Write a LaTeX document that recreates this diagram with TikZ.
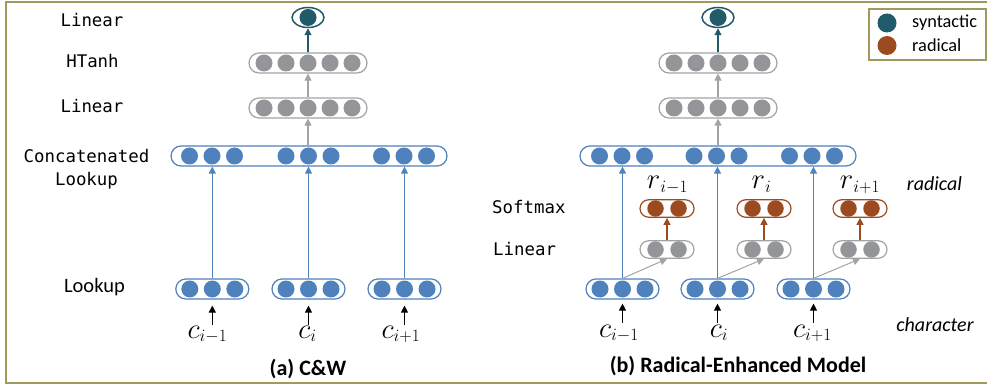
\documentclass[tikz,border=0pt]{standalone}
\usepackage{graphicx}
\usepackage{fontspec}
\setmainfont{Carlito}
\newfontfamily\monof{DejaVu Sans Mono}
\usetikzlibrary{arrows.meta,shapes.geometric}
\definecolor{cblue}{HTML}{4F81BD}
\definecolor{cgray}{HTML}{939598}
\definecolor{cgrayl}{HTML}{A3A3A3}
\definecolor{cteal}{HTML}{215A69}
\definecolor{cbrown}{HTML}{9C4A1F}
\definecolor{framec}{HTML}{A09A5E}
\newcommand{\mybig}[1]{\scalebox{1.15}{$#1$}}
\begin{document}
\begin{tikzpicture}[x=1pt,y=-1pt,
  layer/.style={draw, rounded corners=10pt, minimum height=20pt, inner sep=0pt, fill=white, line width=1.2pt},
  biglayer/.style={layer, draw=cgrayl, minimum width=118pt},
  looklayer/.style={layer, draw=cblue, minimum width=73pt},
  smlayer/.style={layer, rounded corners=8.75pt, minimum height=17.5pt, minimum width=54pt},
  dot/.style={circle, fill=#1, minimum size=17pt, inner sep=0pt, draw=none},
  sdot/.style={circle, fill=#1, minimum size=16.5pt, inner sep=0pt, draw=none},
  outer/.style={ellipse, draw=cteal, line width=1.5pt, fill=white, minimum width=32pt, minimum height=20pt, inner sep=0pt},
  arr/.style={-{Triangle[width=7pt,length=7pt]}, line width=1.2pt},
  mono/.style={font=\monof\fontsize{17.4}{23}\selectfont, inner sep=0pt},
  sans/.style={font=\fontsize{20.5}{24}\selectfont, inner sep=0pt},
  capt/.style={font=\bfseries\fontsize{22}{26}\selectfont, inner sep=0pt},
  ital/.style={font=\itshape\fontsize{20}{24}\selectfont, inner sep=0pt},
  leg/.style={font=\fontsize{18.3}{21}\selectfont, inner sep=0pt},
  mathl/.style={font=\fontsize{25}{30}\selectfont, inner sep=0pt}
]
\useasboundingbox (0,0) rectangle (987,387);
% frame
\draw[framec, line width=1.5pt] (987,2) -- (6,2) -- (6,383) -- (987,383);

% ================= panel (a) =================
\node[mono, anchor=base] (la1) at (92,27) {Linear};
\node[mono, anchor=base] (la2) at (92.5,67.5) {HTanh};
\node[mono, anchor=base] (la3) at (92,113) {Linear};
\node[mono, align=center] (la4) at (86.5,169) {Concatenated\\Lookup};
\node[sans, anchor=base] (la5) at (94.5,292) {Lookup};

\node[outer] (aout) at (308,17.5) {};
\node[dot=cteal] (aoutd) at (aout.center) {};
\node[biglayer] (ahtanh) at (308,63) {};
\foreach \dx [count=\k] in {-44,-22,0,22,44}
  \node[dot=cgray] (ahtanh d\k) at ([xshift=\dx pt]ahtanh.center) {};
\node[biglayer] (alin) at (308,108) {};
\foreach \dx [count=\k] in {-44,-22,0,22,44}
  \node[dot=cgray] (alin d\k) at ([xshift=\dx pt]alin.center) {};
\node[layer, draw=cblue, minimum width=276pt] (aconcat) at (309,156) {};
\foreach \gx [count=\g] in {212,308.5,404}
  \foreach \dx [count=\k] in {-22.5,0,22.5}
    \node[dot=cblue] (aconcat d\g\k) at (\gx+\dx,156) {};
\foreach \gx [count=\g] in {212.3,308.5,404.5} {
  \node[looklayer] (alook\g) at (\gx,289) {};
  \foreach \dx [count=\k] in {-22.5,0,22.5}
    \node[dot=cblue] (alook\g d\k) at ([xshift=\dx pt]alook\g.center) {};
  \draw[cblue, arr] (alook\g.north) -- (alook\g.north |- aconcat.south);
  \coordinate (acs\g) at (\gx,325);
  \draw[black, arr] (acs\g) -- (alook\g.south) [shorten >=6pt];
}
\draw[cteal, arr] (ahtanh.north) -- (aout.south);
\draw[cgrayl, arr] (alin.north) -- (ahtanh.south);
\draw[cgrayl, arr] (aconcat.north -| alin) -- (alin.south);

\node[mathl, anchor=base] (ac1) at (207.5,338) {$\mybig{c}_{i-1}$};
\node[mathl, anchor=base] (ac2) at (307.5,338) {$\mybig{c}_{i}$};
\node[mathl, anchor=base] (ac3) at (401,338) {$\mybig{c}_{i+1}$};
\node[capt, anchor=base] (capa) at (308,375) {(a) C\&W};

% ================= panel (b) =================
\node[mono, anchor=base west] (lb1) at (492,214) {Softmax};
\node[mono, anchor=base west] (lb2) at (493,255) {Linear};

\node[outer] (bout) at (718,17.5) {};
\node[dot=cteal] (boutd) at (bout.center) {};
\node[biglayer] (bhtanh) at (718,63) {};
\foreach \dx [count=\k] in {-44,-22,0,22,44}
  \node[dot=cgray] (bhtanh d\k) at ([xshift=\dx pt]bhtanh.center) {};
\node[biglayer] (blin) at (718,108) {};
\foreach \dx [count=\k] in {-44,-22,0,22,44}
  \node[dot=cgray] (blin d\k) at ([xshift=\dx pt]blin.center) {};
\node[layer, draw=cblue, minimum width=276pt] (bconcat) at (718,156) {};
\foreach \gx [count=\g] in {622,716.5,812}
  \foreach \dx [count=\k] in {-22.5,0,22.5}
    \node[dot=cblue] (bconcat d\g\k) at (\gx+\dx,156) {};
\draw[cteal, arr] (bhtanh.north) -- (bout.south);
\draw[cgrayl, arr] (blin.north) -- (bhtanh.south);
\draw[cgrayl, arr] (bconcat.north -| blin) -- (blin.south);

\foreach \gx/\rx [count=\g] in {622.5/667, 717.5/764, 813.5/860} {
  \node[looklayer] (blook\g) at (\gx,289) {};
  \foreach \dx [count=\k] in {-22.5,0,22.5}
    \node[dot=cblue] (blook\g d\k) at ([xshift=\dx pt]blook\g.center) {};
  \node[smlayer, draw=cgrayl] (brlin\g) at (\rx,249.5) {};
  \node[smlayer, draw=cbrown] (bsoft\g) at (\rx,208.5) {};
  \foreach \dx [count=\k] in {-11.5,11.5} {
    \node[sdot=cgray] (brlin\g d\k) at ([xshift=\dx pt]brlin\g.center) {};
    \node[sdot=cbrown] (bsoft\g d\k) at ([xshift=\dx pt]bsoft\g.center) {};
  }
  \draw[cblue, arr] (blook\g.north) -- (blook\g.north |- bconcat.south);
  \draw[cgrayl, arr, line width=1pt] (blook\g.north) -- (brlin\g.south);
  \draw[cbrown, arr] (brlin\g.north) -- (bsoft\g.south);
  \coordinate (bcs\g) at (\gx,323);
  \draw[black, arr] (bcs\g) -- (blook\g.south) [shorten >=4pt];
}

\node[mathl, anchor=base] (br1) at (667.5,189) {$\mybig{r}_{i-1}$};
\node[mathl, anchor=base] (br2) at (761.5,189) {$\mybig{r}_{i}$};
\node[mathl, anchor=base] (br3) at (860,189) {$\mybig{r}_{i+1}$};
\node[ital, anchor=base] (lrad) at (934.5,191) {radical};
\node[ital, anchor=base] (lchar) at (935,331.5) {character};

\node[mathl, anchor=base] (bc1) at (619,337) {$\mybig{c}_{i-1}$};
\node[mathl, anchor=base] (bc2) at (719,337) {$\mybig{c}_{i}$};
\node[mathl, anchor=base] (bc3) at (812.5,337) {$\mybig{c}_{i+1}$};
\node[capt, anchor=base] (capb) at (738,372) {(b) Radical-Enhanced Model};

% legend
\node[draw=framec, line width=1.2pt, fill=white, minimum width=117pt, minimum height=51pt, inner sep=0pt] (legend) at (927.5,34.5) {};
\node[dot=cteal, minimum size=19pt] (legsyn) at (887,23) {};
\node[dot=cbrown, minimum size=19pt] (legrad) at (887,45.5) {};
\node[leg, anchor=base west] (legsynt) at (912,28) {syntactic};
\node[leg, anchor=base west] (legradt) at (912,52) {radical};
\end{tikzpicture}
\end{document}
